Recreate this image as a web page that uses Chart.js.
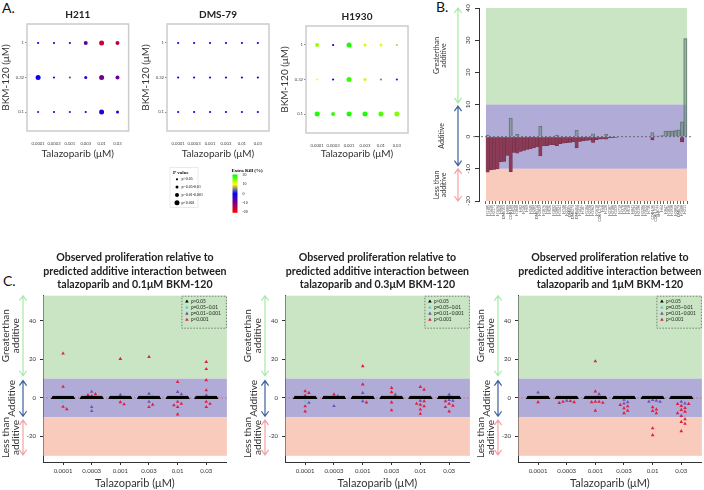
<!DOCTYPE html>
<html><head><meta charset="utf-8">
<script src="https://cdn.jsdelivr.net/npm/chart.js@4.4.1/dist/chart.umd.min.js"></script>
<style>
html,body{margin:0;padding:0;background:#fff;width:704px;height:490px;overflow:hidden;position:relative;font-family:Lato,'Liberation Sans',sans-serif}
canvas{position:absolute}
.lab{position:absolute;font-size:14px;line-height:14px;color:#111}
</style></head><body>
<div class="lab" style="left:2px;top:1px">A.</div>
<div class="lab" style="left:436px;top:0px">B.</div>
<div class="lab" style="left:3px;top:274px">C.</div>
<script>
// ================= DATA =================
const doses = ['0.0001','0.0003','0.001','0.003','0.01','0.03'];
const bkmLevels = ['0.1','0.32','1'];
const pLabelsA = ['p>0.05','p=0.05-0.01','p=0.01-0.001','p<0.001'];
const pLabelsC = ['p>0.05','p=0.05~0.01','p=0.01~0.001','p<0.001'];
const killTicks = [20,10,0,-10,-20];

// Panel A: extra kill (%) by BKM-120 row (0.1, 0.32, 1) x talazoparib dose; p category 0..3
const h211Kill = [[1,-1,1,-1,-3,-2],[-1,0,3,-2,-9,-8],[0,-1,-3,-7,-16,-14]];
const h211P    = [[0,0,0,0,3,1],[3,0,0,1,3,2],[0,0,0,2,3,2]];
const dms79Kill = [[-1,-1,-3,-1,-2,-1],[-1,-1,-2,-1,-1,-1],[-2,-1,-3,-2,-2,-2]];
const dms79P    = [[0,0,0,0,0,0],[0,0,0,0,0,0],[0,0,0,0,0,0]];
const h1930Kill = [[19,18,19,19,17,15],[10,0,18,12,5,1],[14,0,19,12,11,8]];
const h1930P    = [[3,2,3,3,3,3],[0,0,3,1,0,0],[2,0,3,1,1,0]];

// Panel B: cell lines and observed-minus-additive values
const cellLines = ['H1105','H1436','H2171','H1694','H865','DMS153','H889','COR-L88','H524','H1048',
 'H82','H146','H69','H345','H209','DMS114','H2029','H1876','H446','H526',
 'H1092','H2081','H1341','H748','H2227','DMS53','DMS273','DMS454','H1417','H187',
 'H1184','H2330','H1963','H1618','COR-L279','H60','H128','H2107','H2108','H1339',
 'H719','H378','H250','H510','H841','H2141','H2195','H2286','H1522','H735',
 'COR-L95','COR-L311','SHP-77','H64','H847','H1836','H1930','H2059','DMS79','H1688','H211'];
const negB = [-11.0,-10.3,-10.2,-10.0,-7.8,-7.7,-5.8,-10.9,-4.9,-5.1,
 -4.6,-4.3,-4.0,-3.8,-3.5,-3.2,-6.0,-2.9,-2.8,-2.6,
 -2.5,-2.8,-2.2,-2.0,-1.9,-1.8,-1.6,-3.5,-1.5,-1.3,
 -1.2,-1.1,-1.8,-0.9,-0.8,-0.7,-0.8,-0.4,-0.3,-0.2,
 0,0,0,0,0,0,0,0,0,0,
 -1.0,0,0,0,0,0,0,0,0,-1.6,0];
const posB = [0.4,0,0,0,0,0,0,5.8,0,0.7,
 0,0,0,0,0,0,3.2,0,0,0,
 0,0.5,0,0,0,0,0,2.0,0,0,
 0,0,0.9,0,0,0,0.7,0,0,0,
 0,0,0,0,0,0,0,0,0,0,
 1.3,0.2,0.2,0.3,1.7,1.7,1.7,1.9,2.1,4.6,30.5];
const yTicksB = [-20,-10,0,10,20,30,40];

// Panel C: non-null deviations per dose (others ~0), with p category
const c1Vals = [[23,5.8,-1.8,-4.6,-5.8],[3.2,2.0,1.5,0.9,-4.7,-6.8],[20.2,1.6,0.8,-2.2,-3.3],
 [21.3,2.2,1.2,-2.0,-3.5,-4.7],[8.3,3.1,1.9,-2.0,-3.0,-3.8,-4.7,-8.5],[18.7,15.0,9.2,4.0,1.4,-2.0,-3.0,-4.7]];
const c1P = [[3,3,1,3,3],[2,3,3,3,2,2],[3,2,1,3,3],[3,2,1,2,3,3],[3,2,2,3,3,3,3,3],[3,3,3,3,2,3,3,3]];
const c2Vals = [[3.5,2.6,1.2,-1.7,-2.5,-4.3,-7.0],[1.8,1.0,-4.2],[16.5,7.0,2.6,-1.7,-2.3],
 [5.2,3.0,1.7,1.0,-2.3,-6.4],[5.7,4.3,-1.4,-1.7,-3.0,-3.5,-4.3,-6.0,-8.2],[1.7,-1.0,-1.4,-1.7,-3.0,-4.0,-4.7,-7.0]];
const c2P = [[3,3,3,1,2,3,3],[3,2,2],[3,3,2,2,3],[3,3,2,1,3,3],[3,3,2,3,3,3,3,3,3],[2,2,2,3,3,3,3,3]];
const c3Vals = [[2.8,-2.2],[-1.4,-1.6,-2.0,-2.2,-2.6],[19.0,3.4,2.0,0.8,-1.9,-2.0,-2.2,-2.5,-6.6],
 [-0.9,-2.2,-2.8,-3.6,-4.3,-5.3,-6.6,-7.9],[-1.0,-1.4,-1.9,-2.0,-4.8,-5.9,-6.7,-7.9,-15.7,-19.3],
 [-1.9,-2.8,-3.1,-3.1,-4.1,-5.2,-6.2,-7.1,-7.9,-9.3,-11.0,-12.4,-13.4,-17.2]];
const c3P = [[2,3],[2,3,3,3,3],[3,3,2,1,3,3,3,3,3],[2,2,2,3,3,3,3,3],[2,2,2,2,3,3,3,3,3,3],
 [2,2,3,3,3,3,3,3,3,3,3,3,3,3]];
const yTicksC = [40,20,0,-20];

// ================= STYLE / HELPERS =================
Chart.defaults.font.family = "Lato, 'Liberation Sans', sans-serif";
Chart.defaults.color = '#333';
const radA = [1.1,1.5,2.0,2.5];
const pColors = ['#000000','#5cc6e0','#7452b4','#e0203e'];
const killStops = [[-20,[255,0,0]],[0,[0,0,255]],[10,[255,255,0]],[20,[0,255,0]]];
function killColor(v){
  for(let i=0;i<killStops.length-1;i++){
    const [a,ca]=killStops[i],[b,cb]=killStops[i+1];
    if(v<=b||i===killStops.length-2){const t=Math.max(0,Math.min(1,(v-a)/(b-a)));
      return 'rgb('+ca.map((x,k)=>Math.round(x+(cb[k]-x)*t)).join(',')+')';}
  }
}
const base = {responsive:false, animation:false, devicePixelRatio:1, events:[], maintainAspectRatio:false};
function mkCanvas(x,y,w,h){const c=document.createElement('canvas');c.width=w;c.height=h;
  c.style.left=x+'px';c.style.top=y+'px';c.style.width=w+'px';c.style.height=h+'px';document.body.appendChild(c);return c;}
function arrow2(ctx,x,y1,y2,color){
  ctx.save();ctx.strokeStyle=color;ctx.lineWidth=1.2;ctx.beginPath();
  ctx.moveTo(x,y1);ctx.lineTo(x,y2);
  const h=5,w=3.6;
  ctx.moveTo(x-w,y1+h);ctx.lineTo(x,y1);ctx.lineTo(x+w,y1+h);
  ctx.moveTo(x-w,y2-h);ctx.lineTo(x,y2);ctx.lineTo(x+w,y2-h);
  ctx.stroke();ctx.restore();
}
function vtext(ctx,lines,x0,dx,y,font,color){
  lines.forEach((t,i)=>{ctx.save();ctx.translate(x0+i*dx,y);ctx.rotate(-Math.PI/2);ctx.font=font;ctx.fillStyle=color;
    ctx.textAlign='center';ctx.textBaseline='middle';ctx.fillText(t,0,0);ctx.restore();});
}
function sideNotes(zones, opt){
  return {id:'side', afterDraw(ch){
    const c=ch.ctx, y=ch.scales.y, L=ch.chartArea.left;
    zones.forEach(z=>{
      arrow2(c, L+opt.ax, y.getPixelForValue(z.from), y.getPixelForValue(z.to), z.color);
      const yc=(y.getPixelForValue(z.from)+y.getPixelForValue(z.to))/2;
      const x0 = z.lines.length===1 ? L+opt.tx+opt.dx/2+1 : L+opt.tx;
      vtext(c, z.lines, x0, opt.dx, yc, opt.font, '#333');
    });
  }};
}
const boxPlugin = {id:'box', beforeDatasetsDraw(ch){const a=ch.chartArea,c=ch.ctx;c.save();c.strokeStyle='#cccccc';c.lineWidth=1.5;
  c.strokeRect(a.left,a.top,a.right-a.left,a.bottom-a.top);c.restore();}};

// ================= PANEL A =================
function chartA(title, kill, p, cv, ar, extra){
  const el=mkCanvas(cv.x,0,cv.w,cv.h);
  const pts=[],cols=[];
  kill.forEach((row,r)=>row.forEach((v,c)=>{pts.push({x:c+1,y:r+1,r:radA[p[r][c]]});cols.push(killColor(v));}));
  return new Chart(el,{type:'bubble',
    data:{datasets:[{data:pts,backgroundColor:cols,borderWidth:0,hoverRadius:0,hoverBorderWidth:0}]},
    options:{...base,
      layout:{padding:{left:0,top:0,bottom:0,right:cv.w-(ar.r-cv.x)}},
      plugins:{legend:{display:false},tooltip:{enabled:false},
        title:{display:true,fullSize:false,text:title,color:'#222',font:{size:10,weight:'bold',lineHeight:1.2},padding:{top:ar.t-15,bottom:3}}},
      scales:{
        x:{type:'linear',min:0.3,max:6.7,
          afterBuildTicks:s=>{s.ticks=doses.map((d,i)=>({value:i+1}));},
          ticks:{callback:v=>doses[v-1],font:{size:4.2},color:'#444',padding:10,autoSkip:false,maxRotation:0},
          grid:{display:true,drawOnChartArea:false,drawTicks:false},border:{display:false},
          title:{display:true,text:'Talazoparib (μM)',font:{size:10},color:'#333',padding:{top:0,bottom:cv.h-154-6}},
          afterFit:s=>{s.height=cv.h-ar.b;}},
        y:{type:'linear',min:0.45,max:3.55,
          afterBuildTicks:s=>{s.ticks=[1,2,3].map(v=>({value:v}));},
          ticks:{callback:v=>bkmLevels[v-1],font:{size:4.2},color:'#444',padding:1},
          grid:{display:true,drawOnChartArea:false,drawTicks:true,tickLength:2,color:'#888'},border:{display:false},
          title:{display:true,text:'BKM-120 (μM)',font:{size:10},color:'#333',padding:{top:0,bottom:0}},
          afterFit:s=>{s.width=ar.l-cv.x;}}
      }},
    plugins:[boxPlugin,...(extra||[])]});
}
const legendA = {id:'legA', afterDraw(ch){
  const c=ch.ctx, ox=140; c.save();
  c.strokeStyle='#dddddd';c.lineWidth=0.6;c.strokeRect(170-ox,167.5,28,40);
  c.fillStyle='#111';c.textBaseline='middle';c.textAlign='left';
  c.font='bold 5px "Liberation Serif"';c.fillText('P value',173-ox,172.5);
  pLabelsA.forEach((t,i)=>{const y=179.3+i*7.8;c.fillStyle='#000';c.beginPath();c.arc(177-ox,y,radA[i],0,Math.PI*2);c.fill();
    c.font='4px "Liberation Serif"';c.fillText(t,181.5-ox,y);});
  c.font='bold 5px "Liberation Serif"';c.fillText('Extra Kill (%)',231.5-ox,171);
  const g=c.createLinearGradient(0,175,0,212.3);
  killStops.forEach(([v])=>g.addColorStop((20-v)/40,killColor(v)));
  c.fillStyle=g;c.fillRect(232.5-ox,174.5,5,38.3);
  c.fillStyle='#111';c.font='4px "Liberation Serif"';
  killTicks.forEach(v=>c.fillText(String(v),242.5-ox,193.6-v*0.93));
  c.restore();
}};
chartA('H211',h211Kill,h211P,{x:0,w:132,h:165},{l:27,t:24,r:129,b:131});
chartA('DMS-79',dms79Kill,dms79P,{x:140,w:140,h:220},{l:167,t:24,r:269,b:131},[legendA]);
chartA('H1930',h1930Kill,h1930P,{x:279,w:135,h:165},{l:306,t:26,r:408,b:133});

// ================= PANEL B =================
(function(){
  const el=mkCanvas(420,0,284,245);
  const N=cellLines.length;
  const bands={id:'bands',beforeDatasetsDraw(ch){
    const c=ch.ctx,x=ch.scales.x,y=ch.scales.y,x0=x.getPixelForValue(-0.5),x1=x.getPixelForValue(N-0.5);
    [[40,10,'#c9e5c3'],[10,-10,'#b1abd8'],[-10,-20,'#f9cbbd']].forEach(([a,b,col])=>{
      c.fillStyle=col;const ya=y.getPixelForValue(a),yb=y.getPixelForValue(b);c.fillRect(x0,ya,x1-x0,yb-ya);});
  },afterDatasetsDraw(ch){
    const c=ch.ctx,y=ch.scales.y,a=ch.chartArea,yy=y.getPixelForValue(0);
    c.save();c.strokeStyle='#555';c.lineWidth=0.8;c.setLineDash([2,2]);c.beginPath();c.moveTo(a.left-6,yy);c.lineTo(a.right,yy);c.stroke();c.restore();
  }};
  const side=sideNotes([
    {lines:['Greaterthan','additive'],from:40,to:10.5,color:'#a6eaa6'},
    {lines:['Additive'],from:9.5,to:-9,color:'#3d619c'},
    {lines:['Less than','additive'],from:-10,to:-20,color:'#f3a2a4'}],
    {ax:-21,tx:-42,dx:7,font:'7px Lato'});
  new Chart(el,{type:'bar',
    data:{datasets:[
      {data:negB.map((v,i)=>({x:i,y:v})),backgroundColor:'#8c3b57',borderColor:'#6e2b44',borderWidth:0.5,grouped:false,barPercentage:1,categoryPercentage:1},
      {data:posB.map((v,i)=>({x:i,y:v})),backgroundColor:'rgba(110,140,120,0.55)',borderColor:'rgba(80,100,100,0.8)',borderWidth:0.5,grouped:false,barPercentage:1,categoryPercentage:1}]},
    options:{...base,
      layout:{padding:{left:0,top:8,right:11,bottom:0}},
      plugins:{legend:{display:false},tooltip:{enabled:false}},
      scales:{
        x:{type:'linear',min:-2.62,max:62.32,offset:false,
          afterBuildTicks:s=>{s.ticks=cellLines.map((n,i)=>({value:i}));},
          ticks:{callback:v=>cellLines[v],font:{size:3.5},color:'#444',minRotation:90,maxRotation:90,autoSkip:false,padding:1},
          grid:{display:true,drawOnChartArea:false,tickLength:3,color:'#666'},border:{display:false},
          afterFit:s=>{s.height=44;}},
        y:{type:'linear',min:-20,max:40,
          afterBuildTicks:s=>{s.ticks=yTicksB.map(v=>({value:v}));},
          ticks:{font:{size:6.5},color:'#333',minRotation:90,maxRotation:90,crossAlign:'center',padding:2},
          grid:{display:true,drawOnChartArea:false,tickLength:4,color:'#333'},border:{display:true,color:'#333',width:1},
          afterFit:s=>{s.width=59;}}
      }},
    plugins:[bands,side]});
})();

// ================= PANEL C =================
function swarm(center, ys){
  const placed=[];
  return ys.map(y=>{
    for(let k=0;k<24;k++){
      const off=(k%2?1:-1)*Math.ceil(k/2)*0.13;
      if(placed.every(p=>Math.hypot((p.x-off)*28.6,(p.y-y)*1.93)>=3.6)){placed.push({x:off,y});return center+off;}
    }
    return center;
  });
}
function chartC(cv, ar, bkm, vals, ps){
  const el=mkCanvas(cv.x,245,cv.w,245);
  const N=cellLines.length;
  const sets=[[],[],[],[]];
  vals.forEach((vs,d)=>{
    const nz=N-vs.length;
    for(let k=0;k<nz;k++) sets[0].push({x:d+1-0.36+0.72*k/(nz-1),y:0});
    const xs=swarm(d+1,vs);
    vs.forEach((v,j)=>sets[ps[d][j]].push({x:xs[j],y:v}));
  });
  const bands={id:'bands',beforeDatasetsDraw(ch){
    const c=ch.ctx,y=ch.scales.y,a=ch.chartArea;
    [[y.max,10,'#c9e5c3'],[10,-10,'#b1abd8'],[-10,-30,'#f9cbbd']].forEach(([p,q,col])=>{
      c.fillStyle=col;const ya=y.getPixelForValue(p),yb=y.getPixelForValue(q);c.fillRect(a.left+0.5,ya,a.right-a.left-0.5,yb-ya);});
    const yy=y.getPixelForValue(0);
    c.save();c.strokeStyle='#d06070';c.lineWidth=0.8;c.setLineDash([1.5,2]);c.beginPath();c.moveTo(a.left,yy);c.lineTo(a.right,yy);c.stroke();c.restore();
  },afterDatasetsDraw(ch){
    const c=ch.ctx,a=ch.chartArea,bx=a.right-45,by=a.top+0.5;
    c.save();c.strokeStyle='#555';c.lineWidth=0.7;c.setLineDash([1.5,1.5]);c.strokeRect(bx,by,44.5,32);c.setLineDash([]);
    pLabelsC.forEach((t,i)=>{const yy=by+5+i*6.1,xx=bx+5;
      c.fillStyle=pColors[i];c.beginPath();c.moveTo(xx,yy-1.8);c.lineTo(xx+1.8,yy+1.3);c.lineTo(xx-1.8,yy+1.3);c.closePath();c.fill();
      c.fillStyle='#222';c.font='4.8px Lato';c.textBaseline='middle';c.textAlign='left';c.fillText(t,xx+4,yy);});
    c.restore();
  }};
  const side=sideNotes([
    {lines:['Greaterthan','additive'],from:53,to:11.5,color:'#a6eaa6'},
    {lines:['Additive'],from:9,to:-9.5,color:'#3d619c'},
    {lines:['Less than','additive'],from:-11.5,to:-29.5,color:'#f3a2a4'}],
    {ax:-20,tx:-37,dx:9.5,font:'10px Lato'});
  new Chart(el,{type:'scatter',
    data:{datasets:sets.map((s,i)=>({data:s,pointStyle:'triangle',radius:2.1,backgroundColor:pColors[i],borderColor:pColors[i],borderWidth:0,hoverRadius:2.1}))},
    options:{...base,
      layout:{padding:{left:0,top:0,right:cv.w-(ar.r-cv.x),bottom:0}},
      plugins:{legend:{display:false},tooltip:{enabled:false},
        title:{display:true,fullSize:false,color:'#222',
          text:['Observed proliferation relative to','predicted additive interaction between','talazoparib and '+bkm+' BKM-120'],
          font:{size:10.6,weight:'bold',lineHeight:1.27},padding:{top:6.2,bottom:4.1}}},
      scales:{
        x:{type:'linear',min:0.3,max:6.72,
          afterBuildTicks:s=>{s.ticks=doses.map((d,i)=>({value:i+1}));},
          ticks:{callback:v=>doses[v-1],font:{size:6},color:'#333',padding:2,autoSkip:false,maxRotation:0},
          grid:{display:true,drawOnChartArea:false,tickLength:3,color:'#333'},border:{display:true,color:'#333',width:1},
          title:{display:true,text:'Talazoparib (μM)',font:{size:11},color:'#333',padding:{top:0,bottom:0}},
          afterFit:s=>{s.height=28;}},
        y:{type:'linear',min:-33.2,max:53,
          afterBuildTicks:s=>{s.ticks=yTicksC.map(v=>({value:v}));},
          ticks:{font:{size:6},color:'#333',padding:4},
          grid:{display:true,drawOnChartArea:false,tickLength:3,color:'#333'},border:{display:true,color:'#333',width:1},
          afterFit:s=>{s.width=ar.l-cv.x;}}
      }},
    plugins:[bands,side]});
}
chartC({x:0,w:229},{l:43,r:228},'0.1μM',c1Vals,c1P);
chartC({x:242,w:230},{l:285,r:471},'0.3μM',c2Vals,c2P);
chartC({x:475,w:229},{l:518,r:703},'1μM',c3Vals,c3P);
</script>
</body></html>
